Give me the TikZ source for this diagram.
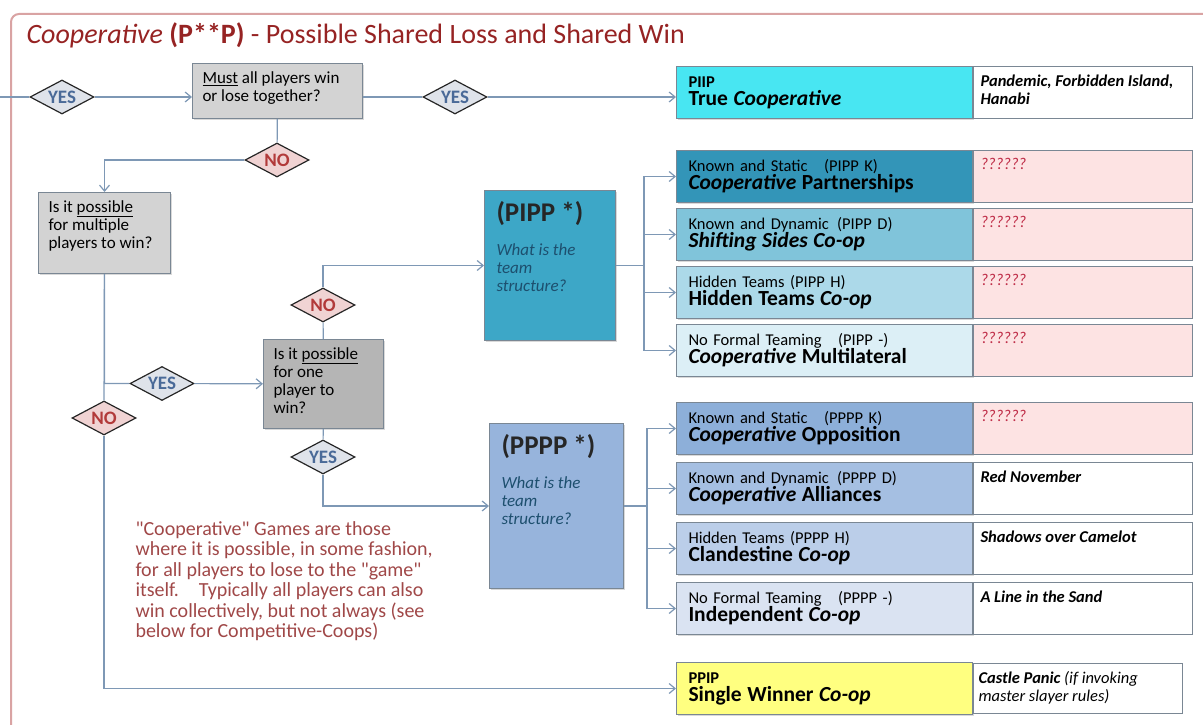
\documentclass[tikz,border=0pt]{standalone}
\usepackage{fontspec}
\setmainfont{Carlito}
\usepackage{xcolor}
\usetikzlibrary{arrows.meta, positioning, shapes.geometric, shadows}

\definecolor{framered}{HTML}{D9A3A3}
\definecolor{titlered}{HTML}{962323}
\definecolor{notered}{HTML}{A04848}
\definecolor{linkblue}{HTML}{7E98B5}
\definecolor{boxline}{HTML}{7A8794}
\definecolor{qgray}{HTML}{D3D3D3}
\definecolor{qdark}{HTML}{B5B5B5}
\definecolor{yesfill}{HTML}{DFE3EA}
\definecolor{nofill}{HTML}{F0D3D3}
\definecolor{yestext}{HTML}{4A6A98}
\definecolor{notext}{HTML}{B23A3A}
\definecolor{cyanbox}{HTML}{48E6F2}
\definecolor{tealteam}{HTML}{3DA7C7}
\definecolor{tealK}{HTML}{3395B8}
\definecolor{tealD}{HTML}{80C4DA}
\definecolor{tealH}{HTML}{ACD9E9}
\definecolor{tealN}{HTML}{DCEFF6}
\definecolor{blueteam}{HTML}{97B4DC}
\definecolor{blueK}{HTML}{8DAFD9}
\definecolor{blueD}{HTML}{A5BFE2}
\definecolor{blueH}{HTML}{BBCEE9}
\definecolor{blueN}{HTML}{DAE3F2}
\definecolor{yellowbox}{HTML}{FFFF80}
\definecolor{pinkbox}{HTML}{FDE3E3}
\definecolor{qmark}{HTML}{C0304A}
\definecolor{teamtext}{HTML}{1D4F6E}

\newcommand{\fs}[2]{\fontsize{#1}{#2}\selectfont}
\newcommand{\cattext}[2]{#1\\{\fs{21.5}{18}\bfseries #2}}
\newcommand{\topbox}[3]{\parbox[c][#1][t]{#2}{\raggedright #3}}
\newcommand{\teamtext}[1]{{\fs{27}{30}\bfseries\color{black!85}#1\par}\vspace{15.5pt}{\itshape\color{teamtext}What is the\\team\\structure?\par}}

\begin{document}
\begin{tikzpicture}[x=1pt, y=-1pt, >={Straight Barb[length=6pt,width=10pt]},
  link/.style={draw=linkblue, line width=1.2pt},
  yesd/.style={diamond, draw=black!85, line width=1.2pt, fill=yesfill, text=yestext, font=\fs{19}{19}\bfseries, inner sep=0pt, aspect=2, minimum width=64pt, minimum height=34pt},
  nod/.style={yesd, fill=nofill, text=notext},
  shade/.style={drop shadow={shadow xshift=1.5pt, shadow yshift=-1.5pt, opacity=0.3}},
  qbox/.style={shade, draw=boxline, line width=1pt, fill=qgray, anchor=north west, inner xsep=10pt, inner ysep=8pt, font=\fs{17}{18}},
  team/.style={shade, draw=boxline, line width=1pt, anchor=north west, inner xsep=12pt, inner ysep=11pt, font=\fs{17}{18}},
  cat/.style={shade, draw=boxline, line width=1pt, anchor=north west, minimum width=296pt, minimum height=52pt, text width=272pt, inner xsep=12pt, align=left, font=\fs{16.5}{18}},
  eg/.style={draw=boxline, line width=1pt, fill=white, anchor=north west, inner xsep=7pt, inner ysep=8pt, font=\fs{16.5}{18}\bfseries\itshape},
  qq/.style={eg, fill=pinkbox, text=qmark, font=\fs{16.5}{18}\itshape}]
\useasboundingbox (0,0) rectangle (1203,725);
\draw[framered, line width=2pt, rounded corners=8pt] (1203,14) -- (11,14) -- (11,725);

\node[anchor=west, text=titlered, font=\fs{28}{30}] (title) at (23,35) {\textit{Cooperative} \textbf{(P**P)} - Possible Shared Loss and Shared Win};

\node[qbox] (ask) at (192,63) {\topbox{39pt}{150pt}{\underline{Must} all players win\\or lose together?}};
\node[qbox] (multi) at (38,192) {\topbox{65pt}{112pt}{Is it \underline{possible}\\for multiple\\players to win?}};
\node[qbox, fill=qdark] (one) at (263,339) {\topbox{73pt}{100pt}{Is it \underline{possible}\\for one\\player to\\win?}};

\node[team, fill=tealteam] (pipp) at (484,190) {\topbox{128pt}{107pt}{\teamtext{(PIPP *)}}};
\node[team, fill=blueteam] (pppp) at (489,423) {\topbox{143pt}{110pt}{\teamtext{(PPPP *)}}};

\node[cat, fill=cyanbox] (piip) at (676,66) {\cattext{\bfseries PIIP}{True \textit{Cooperative}}};
\node[cat, fill=tealK] (pippK) at (676,150) {\cattext{Known and Static\quad (PIPP K)}{\textit{Cooperative} Partnerships}};
\node[cat, fill=tealD, below=5pt of pippK] (pippD) {\cattext{Known and Dynamic\enspace(PIPP D)}{\textit{Shifting Sides Co-op}}};
\node[cat, fill=tealH, below=5pt of pippD] (pippH) {\cattext{Hidden Teams (PIPP H)}{Hidden Teams \textit{Co-op}}};
\node[cat, fill=tealN, below=5pt of pippH] (pippN) {\cattext{No Formal Teaming\quad(PIPP -)}{\textit{Cooperative} Multilateral}};
\node[cat, fill=blueK] (ppppK) at (676,402) {\cattext{Known and Static\quad (PPPP K)}{\textit{Cooperative} Opposition}};
\node[cat, fill=blueD, below=7pt of ppppK] (ppppD) {\cattext{Known and Dynamic\enspace(PPPP D)}{\textit{Cooperative} Alliances}};
\node[cat, fill=blueH, below=7pt of ppppD] (ppppH) {\cattext{Hidden Teams (PPPP H)}{Clandestine \textit{Co-op}}};
\node[cat, fill=blueN, below=7pt of ppppH] (ppppN) {\cattext{No Formal Teaming\quad(PPPP -)}{Independent \textit{Co-op}}};
\node[cat, fill=yellowbox] (ppip) at (676,662) {\cattext{\bfseries PPIP}{Single Winner \textit{Co-op}}};

\node[eg, right=0pt of piip] (piipEg) {\topbox{36pt}{205pt}{Pandemic, Forbidden Island,\\Hanabi}};
\node[qq, right=0pt of pippK] (pippKEg) {\topbox{36pt}{205pt}{??????}};
\node[qq, right=0pt of pippD] (pippDEg) {\topbox{36pt}{205pt}{??????}};
\node[qq, right=0pt of pippH] (pippHEg) {\topbox{36pt}{205pt}{??????}};
\node[qq, right=0pt of pippN] (pippNEg) {\topbox{36pt}{205pt}{??????}};
\node[qq, right=0pt of ppppK] (ppppKEg) {\topbox{36pt}{205pt}{??????}};
\node[eg, right=0pt of ppppD] (ppppDEg) {\topbox{36pt}{205pt}{Red November}};
\node[eg, right=0pt of ppppH] (ppppHEg) {\topbox{36pt}{205pt}{Shadows over Camelot}};
\node[eg, right=0pt of ppppN] (ppppNEg) {\topbox{36pt}{205pt}{A Line in the Sand}};
\node[eg, right=0pt of ppip, inner xsep=5pt, font=\fs{16.5}{18}\itshape] (ppipEg) {\topbox{34pt}{199pt}{\textbf{Castle Panic} (if invoking\\master slayer rules)}};

\node[anchor=north west, text=notered, font=\fs{20}{20.5}, align=left] (note) at (132,518) {\textquotedbl Cooperative\textquotedbl{} Games are those\\where it is possible, in some fashion,\\for all players to lose to the \textquotedbl game\textquotedbl\\itself.\quad Typically all players can also\\win collectively, but not always (see\\below for Competitive-Coops)};

\coordinate (entry) at (0,97);
\node[yesd] (yesA) at (62,97) {YES};
\node[yesd] (yesB) at (455,97) {YES};
\node[nod] (noA) at (277,160) {NO};
\node[yesd] (yesC) at (162,383.5) {YES};
\node[nod] (noB) at (104,418) {NO};
\node[nod] (noC) at (323,305) {NO};
\node[yesd] (yesD) at (323,457) {YES};

\draw[link, ->] (entry) -- (yesA) -- (yesA -| ask.west);
\draw[link, ->] (yesA -| ask.east) -- (yesB) -- (yesB -| piip.west);
\draw[link] (ask) -- (noA);
\draw[link, ->] (noA) -| (multi);
\draw[link, ->] (multi) |- (yesC) -- (one);
\draw[link] (multi) -- (noB);
\draw[link, ->] (noB) |- (ppip);
\draw[link] (one) -- (noC);
\draw[link, ->] (noC) |- (pipp);
\draw[link] (one) -- (yesD);
\draw[link, ->] (yesD) |- (pppp);
\foreach \t in {pippK, pippD, pippH, pippN}
  \draw[link, ->] (pipp.east) -- ++(28,0) |- (\t);
\foreach \t in {ppppK, ppppD, ppppH, ppppN}
  \draw[link, ->] (pppp.east) -- ++(23,0) |- (\t);
\end{tikzpicture}
\end{document}
